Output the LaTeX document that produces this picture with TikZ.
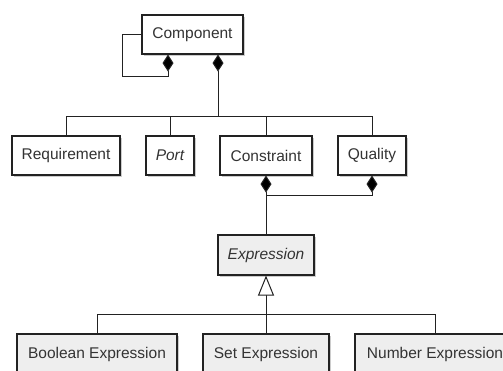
\documentclass[tikz,border=0pt]{standalone}
\usepackage{fontspec}
\setmainfont{Liberation Sans}
\usetikzlibrary{arrows.meta,shadows}
\definecolor{ink}{HTML}{222222}
\definecolor{txt}{HTML}{333333}
\definecolor{abstractfill}{HTML}{EEEEEE}
\tikzset{
  cls/.style={draw=ink, line width=1.1pt, fill=white, text=txt,
    minimum height=39pt, inner sep=0pt, font=\fontsize{15.5}{18}\selectfont,
    drop shadow={shadow xshift=2pt, shadow yshift=-2pt, fill=black, opacity=0.2}},
  expr/.style={cls, fill=abstractfill},
  link/.style={draw=ink, line width=1pt},
  compo/.style={link, {Diamond[length=17pt,width=11pt,fill=black]}-},
  inherit/.style={link, {Triangle[open,length=20pt,width=16pt,fill=white]}-},
}
\begin{document}
\begin{tikzpicture}[x=1pt,y=-1pt]
  \path[use as bounding box, clip] (0,0) rectangle (503,370);
  \fill[white] (0,0) rectangle (503,370);

  % classes
  \node[cls, minimum width=101pt] (comp) at (192.5,34.5) {Component};
  \node[cls, minimum width=108pt] (req)  at (66,155.5) {Requirement};
  \node[cls, minimum width=48pt]  (port) at (170,155.5) {\itshape Port};
  \node[cls, minimum width=92pt]  (con)  at (266,155.5) {Constraint};
  \node[cls, minimum width=68pt]  (qual) at (372,155.5) {Quality};
  \node[expr, minimum width=96pt, minimum height=40pt] (ex) at (266,255) {\itshape Expression};
  \node[expr, minimum width=160pt, minimum height=40pt] (bool) at (97,354) {Boolean Expression};
  \node[expr, minimum width=126pt, minimum height=40pt] (setx) at (266,354) {Set Expression};
  \node[expr, minimum width=160pt, minimum height=40pt] (num)  at (435,354) {Number Expression};

  % junction points
  \coordinate (selfend) at ([xshift=-24.5pt]comp.south);
  \coordinate (partend) at ([xshift=25.5pt]comp.south);
  \coordinate (bus1) at (218,116);
  \coordinate (j2) at (266,195);
  \coordinate (bus2) at (266,314);

  % self composition of Component
  \draw[compo] (selfend) -- ++(0,22) -| ([xshift=-19pt]comp.west) -- (comp.west);

  % composition of Component parts
  \draw[compo] (partend) -- (bus1);
  \draw[link] (req.north) |- (bus1);
  \draw[link] (port.north) |- (bus1);
  \draw[link] (con.north) |- (bus1);
  \draw[link] (qual.north) |- (bus1);

  % composition of Expression
  \draw[compo] (con.south) -- (ex.north);
  \draw[compo] (qual.south) |- (j2);

  % generalisation of Expression
  \draw[inherit] (ex.south) -- (setx.north);
  \draw[link] (bool.north) |- (bus2);
  \draw[link] (num.north) |- (bus2);
\end{tikzpicture}
\end{document}
